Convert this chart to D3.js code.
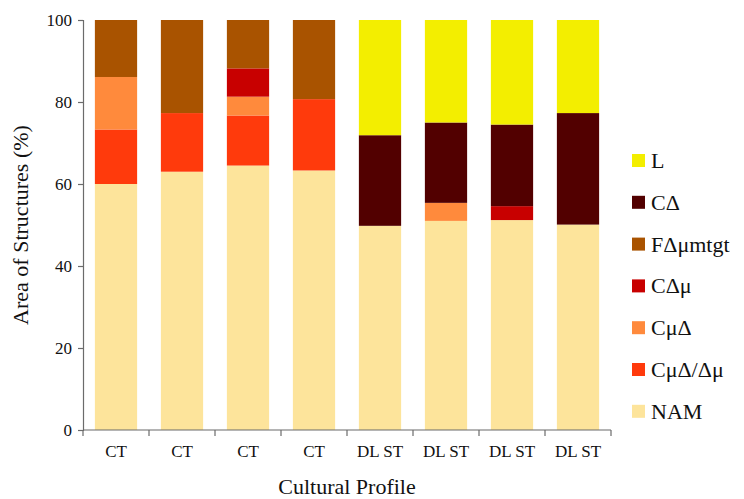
<!DOCTYPE html>
<html>
<head>
<meta charset="utf-8">
<script src="https://cdn.jsdelivr.net/npm/d3@7"></script>
<style>
  body { margin: 0; background: #fff; }
</style>
</head>
<body>
<div id="chart"></div>
<script>
const w = 744;
const h = 499;
const serif = "'Liberation Serif', 'Times New Roman', 'DejaVu Serif', serif";

// data
const profiles = ["CT", "CT", "CT", "CT", "DLST", "DLST", "DLST", "DLST"];
const xLabels = ["CT", "CT", "CT", "CT", "DL ST", "DL ST", "DL ST", "DL ST"];
const seriesNames = ["NAM", "CμΔ/Δμ", "CμΔ", "CΔμ", "FΔμmtgt", "CΔ", "L"];
const nam      = [60.0, 63.0, 64.5, 63.3, 49.8, 51.0, 51.2, 50.1];
const cmdDm    = [13.3, 14.3, 12.2, 17.4, 0, 0, 0, 0];
const cmd      = [12.8, 0, 4.6, 0, 0, 4.4, 0, 0];
const cdm      = [0, 0, 6.9, 0, 0, 0, 3.4, 0];
const fdmtgt   = [13.9, 22.7, 11.8, 19.3, 0, 0, 0, 0];
const cd       = [0, 0, 0, 0, 22.1, 19.6, 19.9, 27.2];
const lArea    = [0, 0, 0, 0, 28.1, 25.0, 25.5, 22.7];
const yTicks = [0, 20, 40, 60, 80, 100];

const colours = ["#FDE49B", "#FF3A0C", "#FF8A3C", "#C80000", "#A95300", "#520000", "#F3EE00"];

const seriesValues = [nam, cmdDm, cmd, cdm, fdmtgt, cd, lArea];

var table = profiles.map(function(p, i) {
    var row = { idx: i };
    seriesNames.forEach(function(s, j) { row[s] = seriesValues[j][i]; });
    return row;
});

var margin = { left: 83, right: 133, top: 20, bottom: 69 };

var svg = d3.select("#chart")
    .append("svg")
    .attr("width", w)
    .attr("height", h);

var x = d3.scaleBand()
    .domain(d3.range(profiles.length))
    .range([margin.left, w - margin.right])
    .paddingInner(0.36)
    .paddingOuter(0.18);

var y = d3.scaleLinear()
    .domain([0, 100])
    .range([h - margin.bottom, margin.top]);

var stack = d3.stack().keys(seriesNames);
var layers = stack(table);

svg.selectAll("g.layer")
    .data(layers)
    .enter()
    .append("g")
    .attr("class", "layer")
    .attr("fill", function(d, i) { return colours[i]; })
    .selectAll("rect")
    .data(function(d) { return d; })
    .enter()
    .append("rect")
    .attr("x", function(d) { return x(d.data.idx); })
    .attr("width", x.bandwidth())
    .attr("y", function(d) { return y(d[1]); })
    .attr("height", function(d) { return y(d[0]) - y(d[1]); });

// y axis
var yAxis = svg.append("g")
    .attr("transform", "translate(" + margin.left + ",0)")
    .call(d3.axisLeft(y).tickValues(yTicks).tickSize(5).tickPadding(6));
yAxis.attr("font-family", null).attr("font-size", null);
yAxis.selectAll("text").style("font-size", "17px").style("font-family", serif).attr("fill", "#111");

// x axis with ticks between bars
var xBoundaries = d3.range(profiles.length + 1).map(function(i) {
    return margin.left + i * (w - margin.right - margin.left) / profiles.length;
});
var xAxis = svg.append("g");
xAxis.append("line")
    .attr("x1", margin.left).attr("x2", w - margin.right)
    .attr("y1", y(0)).attr("y2", y(0));
xAxis.selectAll("line.tk")
    .data(xBoundaries)
    .enter()
    .append("line")
    .attr("class", "tk")
    .attr("x1", function(d) { return d; }).attr("x2", function(d) { return d; })
    .attr("y1", y(0)).attr("y2", y(0) + 6);
xAxis.selectAll("text")
    .data(xLabels)
    .enter()
    .append("text")
    .attr("x", function(d, i) { return x(i) + x.bandwidth() / 2; })
    .attr("y", y(0) + 27)
    .attr("text-anchor", "middle")
    .style("font-family", serif)
    .style("font-size", "17px")
    .attr("fill", "#111")
    .text(function(d) { return d; });

svg.selectAll(".domain, line").attr("stroke", "#6b6b6b").attr("stroke-width", 1.2);

// axis titles
svg.append("text")
    .attr("transform", "translate(28," + ((margin.top + h - margin.bottom) / 2) + ") rotate(-90)")
    .attr("text-anchor", "middle")
    .style("font-family", serif)
    .style("font-size", "22px")
    .attr("fill", "#111")
    .text("Area of Structures (%)");

svg.append("text")
    .attr("x", (margin.left + w - margin.right) / 2)
    .attr("y", 494)
    .attr("text-anchor", "middle")
    .style("font-family", serif)
    .style("font-size", "22px")
    .attr("fill", "#111")
    .text("Cultural Profile");

// legend, top item is last series
var legendOrder = seriesNames.slice().reverse();
var legendColours = colours.slice().reverse();
var legend = svg.selectAll("g.legend")
    .data(legendOrder)
    .enter()
    .append("g")
    .attr("class", "legend")
    .attr("transform", function(d, i) { return "translate(632," + (160 + i * 41.8) + ")"; });

legend.append("rect")
    .attr("x", 0).attr("y", -6)
    .attr("width", 13).attr("height", 13)
    .attr("fill", function(d, i) { return legendColours[i]; });

legend.append("text")
    .attr("x", 19)
    .attr("y", 8)
    .style("font-family", serif)
    .style("font-size", "22px")
    .attr("fill", "#111")
    .text(function(d) { return d; });
</script>
</body>
</html>
